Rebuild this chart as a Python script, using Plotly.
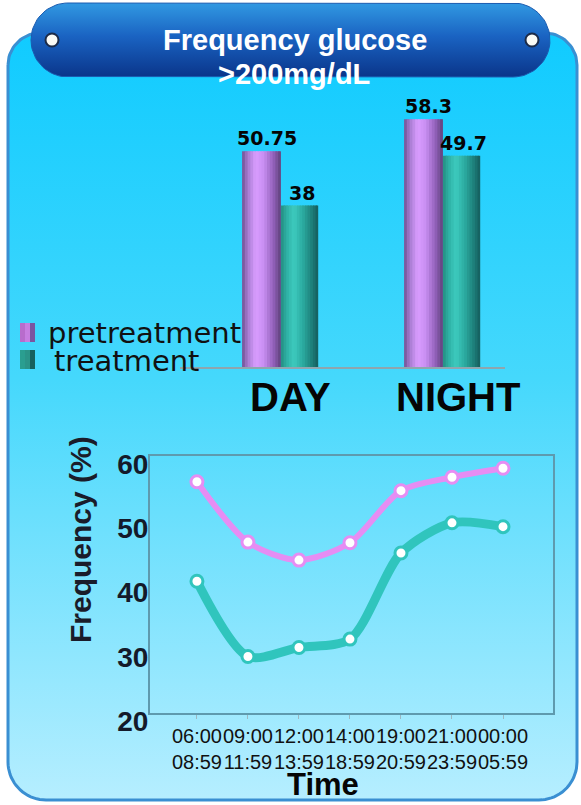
import numpy as np
import plotly.graph_objects as go

W, H = 581, 805

# ---------------- data ----------------
periods = ["DAY", "NIGHT"]
pre_period = [50.75, 58.3]
trt_period = [38, 49.7]

slot_start = ["06:00", "09:00", "12:00", "14:00", "19:00", "21:00", "00:00"]
slot_end = ["08:59", "11:59", "13:59", "18:59", "20:59", "23:59", "05:59"]
pre_slot = [56.0, 46.6, 43.8, 46.5, 54.6, 56.7, 58.1]
trt_slot = [40.5, 28.8, 30.2, 31.5, 44.9, 49.6, 49.0]

series_names = ["pretreatment", "treatment"]
slot_labels = [f"{a}<br>{b}" for a, b in zip(slot_start, slot_end)]


# ---------------- helpers ----------------
def px(x):
    return x / W


def py(y):
    return 1 - y / H


def hex_to_rgb(h):
    h = h.lstrip("#")
    return np.array([int(h[i:i + 2], 16) for i in (0, 2, 4)], dtype=float)


def profile_color(stops, t):
    pos = [s[0] for s in stops]
    cols = [hex_to_rgb(s[1]) for s in stops]
    for k in range(len(pos) - 1):
        if pos[k] <= t <= pos[k + 1]:
            f = (t - pos[k]) / (pos[k + 1] - pos[k])
            c = cols[k] * (1 - f) + cols[k + 1] * f
            return "rgb(%d,%d,%d)" % tuple(np.round(c))
    c = cols[-1]
    return "rgb(%d,%d,%d)" % tuple(np.round(c))


def rounded_rect(x0, y0, x1, y1, r_top, r_bot, n=20):
    xs, ys = [], []

    def arc(cx, cy, r, a0, a1):
        t = np.radians(np.linspace(a0, a1, n))
        xs.extend(cx + r * np.cos(t))
        ys.extend(cy + r * np.sin(t))

    arc(x0 + r_top, y0 + r_top, r_top, 180, 270)
    arc(x1 - r_top, y0 + r_top, r_top, 270, 360)
    arc(x1 - r_bot, y1 - r_bot, r_bot, 0, 90)
    arc(x0 + r_bot, y1 - r_bot, r_bot, 90, 180)
    xs.append(xs[0])
    ys.append(ys[0])
    return xs, ys


def text_ann(x, y, text, font, **kw):
    d = dict(x=px(x), y=py(y), xref="paper", yref="paper", text=text,
             showarrow=False, xanchor="center", yanchor="middle", font=font)
    d.update(kw)
    return d


fig = go.Figure()

# ---------------- background card and title banner ----------------
cx, cy = rounded_rect(8, 33, 577, 800, 32, 38)
fig.add_trace(go.Scatter(
    x=cx, y=cy, mode="lines", fill="toself",
    line=dict(color="#3a8fd2", width=3),
    fillgradient=dict(type="vertical", start=33, stop=800,
                      colorscale=[[0, "#10cbff"], [0.45, "#45d8fc"], [1, "#b6eeff"]]),
    xaxis="x", yaxis="y", hoverinfo="skip", showlegend=False))

bx, by = rounded_rect(31, 3, 550, 77, 37, 37)
fig.add_trace(go.Scatter(
    x=bx, y=by, mode="lines", fill="toself",
    line=dict(color="#1a5bb0", width=1),
    fillgradient=dict(type="vertical", start=3, stop=77,
                      colorscale=[[0, "#3199e2"], [0.45, "#1a63c2"], [1, "#0a358a"]]),
    xaxis="x", yaxis="y", hoverinfo="skip", showlegend=False))

shapes = []
for ccx in (52, 532):
    shapes.append(dict(type="circle", xref="x", yref="y",
                       x0=ccx - 6.5, x1=ccx + 6.5, y0=40 - 6.5, y1=40 + 6.5,
                       fillcolor="#fbfbf6", line=dict(color="#1c2b48", width=2)))

# ---------------- bar chart (cylinder-shaded bars) ----------------
pre_profile = [(0, "#6f5191"), (0.15, "#a77bd0"), (0.35, "#d99dff"),
               (0.55, "#c98ff2"), (0.8, "#9462bc"), (1, "#5f417a")]
trt_profile = [(0, "#238c80"), (0.15, "#2eb0a4"), (0.35, "#3dcbbf"),
               (0.6, "#2aa89e"), (0.85, "#1c7b76"), (1, "#145c5c")]

n_slices = 14
bar_specs = [
    (pre_period, pre_profile, -0.24, 0.24),
    (trt_period, trt_profile, 0.0, 0.23),
]
for values, prof, off, width in bar_specs:
    step = width / n_slices
    for i in range(n_slices):
        t = (i + 0.5) / n_slices
        w_i = step * 1.6 if i < n_slices - 1 else step
        fig.add_trace(go.Bar(
            x=periods, y=values, width=w_i, offset=off + i * step,
            marker=dict(color=profile_color(prof, t), line=dict(width=0)),
            xaxis="x2", yaxis="y2", hoverinfo="skip", showlegend=False))

annotations = []
for values, off, shift in ((pre_period, -19, 5), (trt_period, 19, 2)):
    for cat, v in zip(periods, values):
        annotations.append(dict(
            x=cat, y=v, xref="x2", yref="y2", xshift=off + shift, yshift=0,
            text=f"{v:g}", showarrow=False, xanchor="center", yanchor="bottom",
            font=dict(family="DejaVu Sans", size=19, color="#050505", weight="bold")))

for cat, shift in zip(periods, (10, 15)):
    annotations.append(dict(
        x=cat, y=py(397), xref="x2", yref="paper", xshift=shift,
        text=cat, showarrow=False, xanchor="center", yanchor="middle",
        font=dict(family="Liberation Sans", size=40, color="#050505", weight="bold")))

# legend
legend_items = [
    (series_names[0], 46, 333, ["#b86ccc", "#c77ee0", "#7a55a0"], 323),
    (series_names[1], 52, 361, ["#2a9e90", "#2a9488", "#17605e"], 350),
]
for name, tx, ty, cols, sy in legend_items:
    annotations.append(text_ann(
        tx, ty, name, dict(family="DejaVu Sans", size=29, color="#111111"),
        xanchor="left"))
    edges = [20, 25, 30, 35]
    for k, col in enumerate(cols):
        shapes.append(dict(type="rect", xref="paper", yref="paper",
                           x0=px(edges[k]), x1=px(edges[k + 1]),
                           y0=py(sy + 19), y1=py(sy), fillcolor=col,
                           line=dict(width=0), layer="above"))

# ---------------- line chart ----------------
line_specs = [
    (series_names[0], pre_slot, "#e68df3", 6),
    (series_names[1], trt_slot, "#30c5bd", 9),
]
for name, vals, col, lw in line_specs:
    fig.add_trace(go.Scatter(
        x=slot_labels, y=vals, name=name, mode="lines+markers",
        line=dict(color=col, width=lw, shape="spline", smoothing=0.8),
        marker=dict(size=12, color="#ffffff", line=dict(color=col, width=3)),
        xaxis="x3", yaxis="y3", showlegend=False, cliponaxis=False))

annotations.append(text_ann(
    80, 539, "Frequency (%)",
    dict(family="Liberation Sans", size=30, color="#1a1c2a", weight="bold"),
    textangle=-90))
annotations.append(text_ann(
    323, 784, "Time",
    dict(family="Liberation Sans", size=31, color="#050505", weight="bold")))

# title
title_font = dict(family="Liberation Sans", size=29, color="#ffffff", weight="bold")
annotations.append(text_ann(295, 40, "Frequency glucose", title_font))
annotations.append(text_ann(294, 74, ">200mg/dL", title_font))

axis_col = "#5e9aae"
fig.update_layout(
    width=W, height=H,
    margin=dict(l=0, r=0, t=0, b=0, pad=0, autoexpand=False),
    paper_bgcolor="#ffffff",
    plot_bgcolor="rgba(0,0,0,0)",
    barmode="overlay",
    showlegend=False,
    shapes=shapes,
    annotations=annotations,
    xaxis=dict(domain=[0, 1], range=[0, W], visible=False, fixedrange=True),
    yaxis=dict(domain=[0, 1], range=[H, 0], visible=False, fixedrange=True),
    xaxis2=dict(domain=[px(180), px(505)], range=[-0.623, 1.383],
                anchor="y2", showline=True, linecolor="#8fa6ae", linewidth=2,
                showticklabels=False, ticks="", showgrid=False, zeroline=False),
    yaxis2=dict(domain=[py(367), py(112)], range=[0, 60], anchor="x2",
                visible=False, showgrid=False),
    xaxis3=dict(domain=[px(150), px(553)], range=[-0.92, 6.98], anchor="y3",
                type="category", showline=True, mirror=True, linecolor=axis_col,
                linewidth=2, ticks="outside", ticklen=4, tickcolor="#9ab8c2",
                tickangle=0, showgrid=False, zeroline=False,
                tickfont=dict(family="Liberation Sans", size=20, color="#111111"),
                ticklabelstandoff=0),
    yaxis3=dict(domain=[py(713), py(456)], range=[20, 60], anchor="x3",
                tickvals=[20, 30, 40, 50, 60], showline=True, mirror=True,
                linecolor=axis_col, linewidth=2, ticks="", ticklen=0,
                showgrid=False, zeroline=False, ticklabelstandoff=-6,
                ticklabelshift=8,
                tickfont=dict(family="Liberation Sans", size=28, color="#141a2a",
                              weight="bold")),
)

fig.write_html("out.html")
